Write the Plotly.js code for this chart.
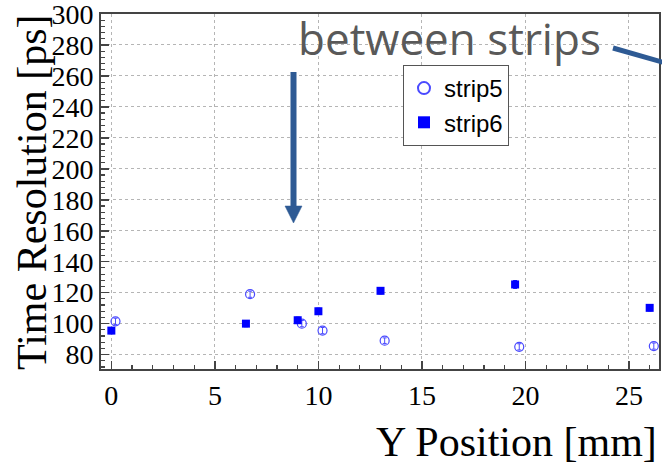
<!DOCTYPE html>
<html>
<head>
<meta charset="utf-8">
<script src="https://cdn.plot.ly/plotly-3.0.1.min.js"></script>
<style>
html,body{margin:0;padding:0;background:#fff;}
#chart{width:662px;height:464px;}
#chart .xtick text, #chart .ytick text {
  font-family: "Liberation Serif", "Times New Roman", serif !important;
  font-size: 28px !important;
  fill: #000 !important;
}
</style>
</head>
<body>
<div id="chart"></div>
<script>
// strip5 (open circles)
const strip5X = [0.2, 6.7, 9.2, 10.2, 13.2, 19.7, 26.2];
const strip5Y = [101.5, 119, 100, 95.5, 89, 85, 85.5];
const strip5Err = [2, 2, 2, 2, 1.8, 2, 2];
// strip6 (filled squares)
const strip6X = [0, 6.5, 9.0, 10.0, 13.0, 19.5, 26.0];
const strip6Y = [95.5, 100, 102.2, 108, 121.2, 125.3, 110.2];
const strip6Err = [2, 2, 2, 2, 2, 2.5, 2];

const seriesNames = ['strip5', 'strip6'];
const axisTitleX = 'Y Position [mm]';
const axisTitleY = 'Time Resolution [ps]';
const noteLabel = 'between strips';

(function () {
  var chartW = 662, chartH = 464;
  var chartMargin = {l: 101, r: 3, t: 14, b: 95};
  var plotWidth = chartW - chartMargin.l - chartMargin.r;
  var plotHeight = chartH - chartMargin.t - chartMargin.b;
  function toPaperX(v) { return (v - chartMargin.l) / plotWidth; }
  function toPaperY(v) { return (chartH - chartMargin.b - v) / plotHeight; }

  var strip6Color = '#0000ff';
  var strip5Color = '#4a4aff';
  var noteArrowColor = '#2e5a94';
  var serifFamily = 'Liberation Serif';

  var traceList = [
    {
      type: 'scatter', mode: 'markers', name: seriesNames[0],
      x: strip5X, y: strip5Y,
      error_y: {type: 'data', array: strip5Err, visible: true, color: strip5Color, thickness: 1, width: 2},
      marker: {symbol: 'circle-open', size: 9, color: strip5Color, line: {width: 1.2, color: strip5Color}}
    },
    {
      type: 'scatter', mode: 'markers', name: seriesNames[1],
      x: strip6X, y: strip6Y,
      error_y: {type: 'data', array: strip6Err, visible: true, color: strip6Color, thickness: 1, width: 2},
      marker: {symbol: 'square', size: 8, color: strip6Color}
    }
  ];

  function makeAxis(extra) {
    return Object.assign({
      showline: true, linecolor: '#444', linewidth: 2, mirror: true,
      ticks: 'inside', ticklen: 8, tickwidth: 1.5, tickcolor: '#444',
      showgrid: true, gridcolor: '#b5b5b5', griddash: 'dot', gridwidth: 1,
      zeroline: false, ticklabeloverflow: 'allow',
      tickfont: {family: serifFamily, size: 28, color: '#000'}
    }, extra);
  }

  var layoutSpec = {
    width: chartW, height: chartH,
    margin: chartMargin,
    font: {family: serifFamily, size: 28, color: '#000'},
    paper_bgcolor: '#fff', plot_bgcolor: '#fff',
    showlegend: true,
    legend: {
      x: toPaperX(403), y: toPaperY(65), xanchor: 'left', yanchor: 'top',
      bgcolor: '#fff', bordercolor: '#555', borderwidth: 1,
      font: {family: 'Liberation Sans', size: 24, color: '#000'},
      itemsizing: 'constant'
    },
    xaxis: makeAxis({
      range: [-0.5, 26.45], dtick: 5, tick0: 0,
      minor: {ticks: 'inside', ticklen: 4, dtick: 1, tickcolor: '#444', tickwidth: 1.2, showgrid: false}
    }),
    yaxis: makeAxis({
      range: [70.7, 300], dtick: 20, tick0: 0,
      minor: {ticks: 'inside', ticklen: 4, dtick: 4, tickcolor: '#444', tickwidth: 1.2, showgrid: false}
    }),
    annotations: [
      {
        text: axisTitleY, xref: 'paper', yref: 'paper', x: toPaperX(32), y: toPaperY(193),
        xanchor: 'center', yanchor: 'middle', textangle: -90, showarrow: false,
        font: {family: serifFamily, size: 42, color: '#000'}
      },
      {
        text: axisTitleX, xref: 'paper', yref: 'paper', x: toPaperX(659), y: toPaperY(442),
        xanchor: 'right', yanchor: 'middle', showarrow: false,
        font: {family: serifFamily, size: 42, color: '#000'}
      },
      {
        text: noteLabel, xref: 'paper', yref: 'paper', x: toPaperX(449.5), y: toPaperY(38),
        xanchor: 'center', yanchor: 'middle', showarrow: false,
        font: {family: 'Open Sans', size: 44, color: '#595959'}
      }
    ],
    shapes: [
      {type: 'line', xref: 'paper', yref: 'paper', x0: toPaperX(293.5), y0: toPaperY(72), x1: toPaperX(293.5), y1: toPaperY(208),
       line: {color: noteArrowColor, width: 6}},
      {type: 'path', xref: 'paper', yref: 'paper',
       path: 'M' + toPaperX(285) + ',' + toPaperY(206) + ' L' + toPaperX(302) + ',' + toPaperY(206) + ' L' + toPaperX(293.5) + ',' + toPaperY(223) + ' Z',
       fillcolor: noteArrowColor, line: {color: noteArrowColor, width: 0.5}},
      {type: 'line', xref: 'paper', yref: 'paper', x0: toPaperX(613), y0: toPaperY(48), x1: toPaperX(690), y1: toPaperY(70),
       line: {color: noteArrowColor, width: 5}}
    ]
  };

  Plotly.newPlot('chart', traceList, layoutSpec, {displayModeBar: false, staticPlot: true});
})();
</script>
</body>
</html>
